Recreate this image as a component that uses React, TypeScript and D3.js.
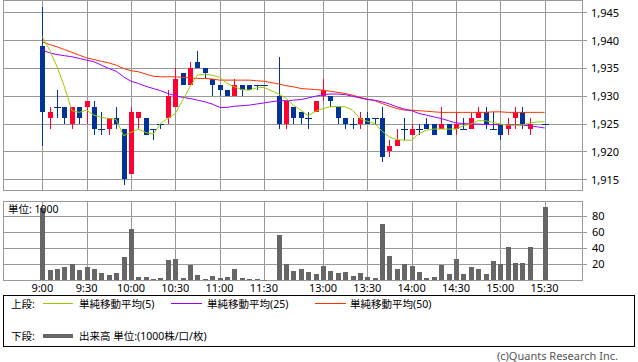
import React from 'react';
import * as d3 from 'd3';

const timeLabels = ['9:00', '9:30', '10:00', '10:30', '11:00', '11:30', '13:00', '13:30', '14:00', '14:30', '15:00', '15:30'];
const timeLabelIdx = [0, 6, 12, 18, 24, 30, 38, 44, 50, 56, 62, 68];
const priceTicks = [1915, 1920, 1925, 1930, 1935, 1940, 1945];
const volTicks = [20, 40, 60, 80];

const N = null;
const open = [1939, 1926, 1928, 1928, 1925, 1928, 1928, 1928, 1924, 1924, 1926, 1924, 1916, 1926, 1926, 1924, 1925, 1926, 1928, 1934, 1932, 1936, 1935, 1933, 1932, 1931, 1930, 1932, 1932, 1932, 1932, N, 1930, 1925, 1928, 1927, 1926, 1927, 1930, 1930, 1928, 1926, 1925, 1925, 1926, 1926, 1926, 1920, 1921, 1924, 1923, 1924, 1925, 1925, 1924, 1925, 1924, 1924, 1924, 1926, 1927, 1924, 1925, 1924, 1926, 1927, 1924, N, 1925];
const close = [1927, 1927, 1928, 1926, 1928, 1926, 1929, 1924, 1924, 1926, 1925, 1915, 1927, 1927, 1923, 1924, 1925, 1930, 1933, 1932, 1935, 1935, 1934, 1932, 1931, 1930, 1932, 1931, 1931, 1932, 1932, N, 1925, 1929, 1926, 1926, 1926, 1929, 1931, 1929, 1926, 1925, 1925, 1926, 1925, 1926, 1919, 1921, 1922, 1924, 1924, 1924, 1924, 1923, 1925, 1923, 1925, 1924, 1926, 1927, 1925, 1924, 1923, 1925, 1927, 1925, 1925, N, 1925];
const high = [1946, 1928, 1931, 1928, 1928, 1928, 1929, 1929, 1927, 1926, 1928, 1924, 1928, 1927, 1926, 1924, 1925, 1931, 1935, 1934, 1936, 1938, 1935, 1933, 1932, 1931, 1933, 1932, 1932, 1932, 1932, N, 1937, 1929, 1928, 1927, 1927, 1929, 1933, 1930, 1928, 1926, 1926, 1927, 1927, 1926, 1928, 1922, 1924, 1926, 1925, 1925, 1926, 1925, 1928, 1925, 1927, 1926, 1927, 1928, 1928, 1927, 1925, 1926, 1928, 1928, 1926, N, 1925];
const low = [1921, 1924, 1926, 1925, 1924, 1925, 1925, 1923, 1923, 1923, 1924, 1914, 1916, 1924, 1923, 1922, 1924, 1925, 1928, 1932, 1932, 1935, 1933, 1930, 1930, 1930, 1930, 1930, 1931, 1931, 1932, N, 1924, 1924, 1925, 1925, 1924, 1927, 1929, 1928, 1925, 1924, 1924, 1924, 1925, 1925, 1918, 1919, 1921, 1922, 1923, 1923, 1924, 1923, 1924, 1923, 1923, 1924, 1924, 1926, 1924, 1924, 1922, 1923, 1924, 1924, 1923, N, 1925];
const volume = [89, 12.4, 13.7, 16.6, 19.9, 12.4, 16.6, 13.7, 9.1, 6.2, 9.1, 29, 63.8, 4.1, 4.1, 1.7, 2.9, 25.3, 26.5, 2.9, 19, 6.2, 1.7, 5.4, 2.9, 4.1, 13.7, 2.9, 0.8, 1.7, 0.6, N, 55.9, 19.9, 11.2, 13.7, 10.4, 7.5, 17.4, 11.2, 8.3, 9.5, 5, 8.3, 3.7, 2.5, 69.2, 29.8, 13.7, 19.9, 17.4, 9.9, 2.5, 3.7, 18.6, 7.5, 26.1, 7.5, 16.1, 13.7, 7.5, 23.6, 19.9, 41, 21.1, 21.1, 41, N, 90.7];
const ma5 = [1940.6, 1938.2, 1935.2, 1931.6, 1927.3, 1927, 1927.4, 1926.5, 1926.1, 1925.9, 1925.7, 1922.8, 1923.4, 1924, 1923.4, 1923.05, 1925, 1925.9, 1926.8, 1929.2, 1931.6, 1933.7, 1933.9, 1933.7, 1933.3, 1932.2, 1931.6, 1931.1, 1931, 1931.4, 1931.5, N, 1930.3, 1929.5, 1928.3, 1927.4, 1926.4, 1927.2, 1927.7, 1928, 1928.1, 1928, 1927.4, 1925.9, 1925.4, 1925, 1923.6, 1922.6, 1922.1, 1922, 1922, 1923.2, 1923.8, 1924, 1924, 1924, 1924, 1924.6, 1924.9, 1925.5, 1925.5, 1925.2, 1924.9, 1924.7, 1924.7, 1924.7, 1925.1, 1925.3, 1925.3];
const ma25 = [1938.2, 1937.7, 1937.4, 1937.2, 1937, 1936.7, 1936.4, 1936.1, 1935.5, 1934.9, 1934.4, 1933.4, 1932.6, 1932.2, 1931.7, 1931.3, 1930.9, 1930.4, 1930, 1929.7, 1929.5, 1929.2, 1928.9, 1928.5, 1927.9, 1927.9, 1928.1, 1928.2, 1928.3, 1928.5, 1928.7, N, 1929.1, 1929.1, 1929.2, 1929.3, 1929.6, 1929.9, 1930.2, 1930.3, 1930.3, 1930.2, 1929.9, 1929.6, 1929.3, 1929.2, 1928.9, 1928.5, 1928, 1927.6, 1927.3, 1926.8, 1926.5, 1926.2, 1925.9, 1925.5, 1925.1, 1925, 1924.9, 1924.9, 1924.8, 1924.8, 1924.8, 1924.8, 1924.8, 1924.7, 1924.6, 1924.4, 1924.2];
const ma50 = [1939.7, 1939.2, 1938.8, 1938.3, 1937.8, 1937.3, 1936.8, 1936.5, 1936.2, 1935.9, 1935.5, 1934.9, 1934.5, 1934.3, 1933.9, 1933.5, 1933.4, 1933.4, 1933.4, 1933.3, 1933.2, 1933.1, 1933.1, 1933, 1932.8, 1932.8, 1932.8, 1932.8, 1932.8, 1932.7, 1932.6, N, 1932.1, 1931.8, 1931.6, 1931.3, 1931.2, 1931.1, 1931, 1930.8, 1930.6, 1930.4, 1930.1, 1929.7, 1929.4, 1929.1, 1928.6, 1928.1, 1927.7, 1927.4, 1927.4, 1927.3, 1927.2, 1927.1, 1927, 1927, 1927, 1927, 1927, 1927, 1927, 1927.1, 1927.1, 1927, 1927, 1927, 1927, 1927, 1927];

const UP = '#ff0033';
const DOWN = '#003399';
const C5 = '#99cc00';
const C25 = '#9900ff';
const C50 = '#ff3300';
const GRID = '#999999';
const FONT = "'Noto Sans', 'Noto Sans CJK JP', sans-serif";

export default function App() {
  const x = d3.scaleLinear().domain([0, 68]).range([42.3, 544.6]);
  const y = d3.scaleLinear().domain([1915, 1945]).range([179.1, 12.3]);
  const yv = d3.scaleLinear().domain([0, 98]).range([280, 201]);
  const cr = (v: number) => Math.round(v) + 0.5;

  const L = 3.5, R = 582.5;
  const pTop = 0.5, pBot = 190.5;
  const vTop = 201.5, vBot = 280.5;

  const maLine = (arr: (number | null)[]) => {
    const pts = arr.map((v, i) => [i, v] as [number, number | null]).filter((d) => d[1] != null) as [number, number][];
    return d3.line<[number, number]>().x((d) => x(d[0])).y((d) => y(d[1]))(pts) || '';
  };

  const candles = open.map((o, i) => {
    if (o == null) return null;
    const c = close[i] as number, h = high[i] as number, l = low[i] as number;
    const cx = Math.round(x(i));
    const color = c > o ? UP : DOWN;
    const yTop = Math.round(y(Math.max(o, c)));
    const yBottom = Math.round(y(Math.min(o, c)));
    return (
      <g key={i}>
        <line x1={cx + 0.5} x2={cx + 0.5} y1={Math.round(y(h))} y2={Math.round(y(l))} stroke={color} strokeWidth={1} />
        {o === c ? (
          <rect x={cx - 3} y={yTop} width={7} height={1} fill={color} />
        ) : (
          <rect x={cx - 2} y={yTop} width={5} height={Math.max(1, yBottom - yTop)} fill={color} />
        )}
      </g>
    );
  });

  const volBars = volume.map((v, i) => {
    if (v == null) return null;
    const cx = Math.round(x(i));
    const top = Math.round(yv(v));
    return <rect key={i} x={cx - 2} y={top} width={5} height={Math.max(0.5, 280 - top)} fill="#666666" />;
  });

  return (
    <svg width={638} height={362} style={{ position: 'absolute', left: 0, top: 0, background: '#fff' }} fontFamily={FONT}>
      <rect x={0} y={0} width={638} height={362} fill="#fff" />
      {/* price panel grid */}
      {priceTicks.map((t) => (
        <g key={'pt' + t}>
          <line x1={L} x2={587} y1={cr(y(t))} y2={cr(y(t))} stroke={GRID} />
          <text x={591} y={y(t)} dominantBaseline="central" fontSize={11} fill="#000">
            {d3.format(',')(t)}
          </text>
        </g>
      ))}
      {timeLabelIdx.map((i) => (
        <g key={'vg' + i}>
          <line x1={cr(x(i))} x2={cr(x(i))} y1={pTop} y2={pBot} stroke={GRID} />
          <line x1={cr(x(i))} x2={cr(x(i))} y1={vTop} y2={vBot} stroke={GRID} />
        </g>
      ))}
      <rect x={L} y={pTop} width={R - L} height={pBot - pTop} fill="none" stroke={GRID} />
      {candles}
      <path d={maLine(ma50)} fill="none" stroke={C50} strokeWidth={1} />
      <path d={maLine(ma25)} fill="none" stroke={C25} strokeWidth={1} />
      <path d={maLine(ma5)} fill="none" stroke={C5} strokeWidth={1} />

      {/* volume panel */}
      {volTicks.map((t) => (
        <g key={'vt' + t}>
          <line x1={L} x2={587} y1={cr(yv(t))} y2={cr(yv(t))} stroke={GRID} />
          <text x={592} y={yv(t)} dominantBaseline="central" fontSize={11} fill="#000">
            {t}
          </text>
        </g>
      ))}
      <rect x={L} y={vTop} width={R - L} height={vBot - vTop} fill="none" stroke={GRID} />
      {volBars}
      <text x={8} y={209} dominantBaseline="central" fontSize={10.5} fill="#000">単位: 1000</text>

      {timeLabelIdx.map((i, k) => (
        <text key={'tl' + i} x={x(i)} y={287} textAnchor="middle" dominantBaseline="central" fontSize={11} fill="#000">
          {timeLabels[k]}
        </text>
      ))}

      {/* legend */}
      <rect x={3.5} y={295.5} width={631} height={51} fill="none" stroke="#000" />
      <g fontSize={10.5} fill="#000">
        <text x={11} y={303.5} dominantBaseline="central">上段:</text>
        <line x1={43} x2={73} y1={303.5} y2={303.5} stroke={C5} />
        <text x={79} y={303.5} dominantBaseline="central">単純移動平均(5)</text>
        <line x1={171} x2={202} y1={303.5} y2={303.5} stroke={C25} />
        <text x={207} y={303.5} dominantBaseline="central">単純移動平均(25)</text>
        <line x1={315} x2={346} y1={303.5} y2={303.5} stroke={C50} />
        <text x={350} y={303.5} dominantBaseline="central">単純移動平均(50)</text>
        <text x={11} y={336} dominantBaseline="central">下段:</text>
        <line x1={43} x2={73} y1={336} y2={336} stroke="#666666" strokeWidth={4} />
        <text x={79} y={336} dominantBaseline="central">出来高 単位:(1000株/口/枚)</text>
      </g>
      <text x={618} y={355} textAnchor="end" dominantBaseline="central" fontSize={11} fill="#555">
        (c)Quants Research Inc.
      </text>
    </svg>
  );
}
